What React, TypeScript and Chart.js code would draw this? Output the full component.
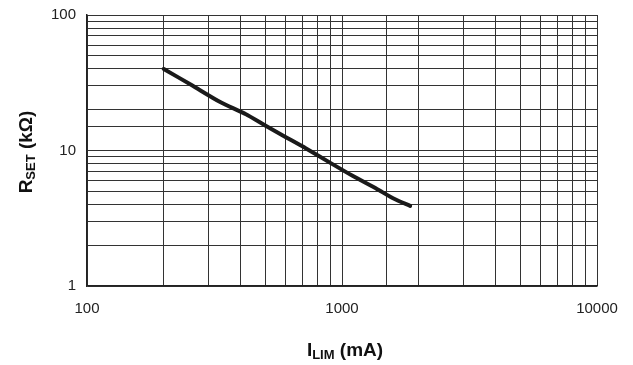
import React, { useEffect, useRef } from "react";
import { Chart, registerables } from "chart.js";

Chart.register(...registerables);

// Current limit (mA) vs. set resistor (kΩ)
const limitCurrentMA: number[] = [200, 260, 330, 420, 500, 600, 720, 900, 1100, 1370, 1600, 1850];
const setResistanceK: number[] = [40, 30, 23, 18.5, 15.3, 12.6, 10.4, 8.1, 6.5, 5.2, 4.4, 3.9];

const xTickLabels: number[] = [100, 1000, 10000];
const yTickLabels: number[] = [1, 10, 100];

const FONT = "'Liberation Sans', Arial, Helvetica, sans-serif";

// Draws text made of normal and subscript runs, centred on (0,0) of the current transform
function drawRuns(ctx: CanvasRenderingContext2D, runs: { t: string; sub?: boolean }[]) {
  const big = `bold 19px ${FONT}`;
  const small = `bold 13px ${FONT}`;
  let total = 0;
  for (const r of runs) {
    ctx.font = r.sub ? small : big;
    total += ctx.measureText(r.t).width;
  }
  let x = -total / 2;
  ctx.textBaseline = "alphabetic";
  ctx.textAlign = "left";
  for (const r of runs) {
    ctx.font = r.sub ? small : big;
    ctx.fillText(r.t, x, r.sub ? 9 : 6);
    x += ctx.measureText(r.t).width;
  }
}

const axisTitles = {
  id: "axisTitles",
  afterDraw(chart: any) {
    const ctx: CanvasRenderingContext2D = chart.ctx;
    ctx.save();
    ctx.fillStyle = "#111";
    ctx.translate(345, 350);
    drawRuns(ctx, [{ t: "I" }, { t: "LIM", sub: true }, { t: " (mA)" }]);
    ctx.restore();

    ctx.save();
    ctx.fillStyle = "#111";
    ctx.translate(26, 152);
    ctx.rotate(-Math.PI / 2);
    drawRuns(ctx, [{ t: "R" }, { t: "SET", sub: true }, { t: " (kΩ)" }]);
    ctx.restore();
  },
};

export default function App() {
  const ref = useRef<HTMLCanvasElement | null>(null);

  useEffect(() => {
    if (!ref.current) return;
    const chart = new Chart(ref.current, {
      type: "line",
      data: {
        datasets: [
          {
            data: limitCurrentMA.map((x, i) => ({ x, y: setResistanceK[i] })),
            borderColor: "#1a1a1a",
            borderWidth: 4,
            pointRadius: 0,
            tension: 0.2,
            borderCapStyle: "round",
            borderJoinStyle: "round",
          },
        ],
      },
      options: {
        animation: false,
        responsive: false,
        devicePixelRatio: 1,
        layout: { padding: { top: 15, right: 36, left: 0, bottom: 0 } },
        plugins: { legend: { display: false }, tooltip: { enabled: false } },
        scales: {
          x: {
            type: "logarithmic",
            min: 100,
            max: 10000,
            grid: { color: "#333", lineWidth: 1, drawTicks: false },
            border: { color: "#222", width: 1.5 },
            ticks: {
              padding: 14,
              autoSkip: false,
              maxRotation: 0,
              color: "#222",
              font: { family: FONT, size: 15 },
              callback: (v: any) => (xTickLabels.includes(Number(v)) ? String(v) : ""),
            },
            afterFit: (s: any) => {
              s.height = 79;
            },
          },
          y: {
            type: "logarithmic",
            min: 1,
            max: 100,
            grid: { color: "#333", lineWidth: 1, drawTicks: false },
            border: { color: "#222", width: 1.5 },
            ticks: {
              padding: 11,
              autoSkip: false,
              color: "#222",
              font: { family: FONT, size: 15 },
              callback: (v: any) => (yTickLabels.includes(Number(v)) ? String(v) : ""),
            },
            afterFit: (s: any) => {
              s.width = 87;
              s.paddingTop = 0;
              s.paddingBottom = 0;
            },
          },
        },
      },
      plugins: [axisTitles],
    });
    return () => chart.destroy();
  }, []);

  return (
    <div style={{ position: "absolute", left: 0, top: 0, width: 633, height: 365, background: "#fff" }}>
      <canvas ref={ref} width={633} height={365} style={{ display: "block" }} />
    </div>
  );
}
